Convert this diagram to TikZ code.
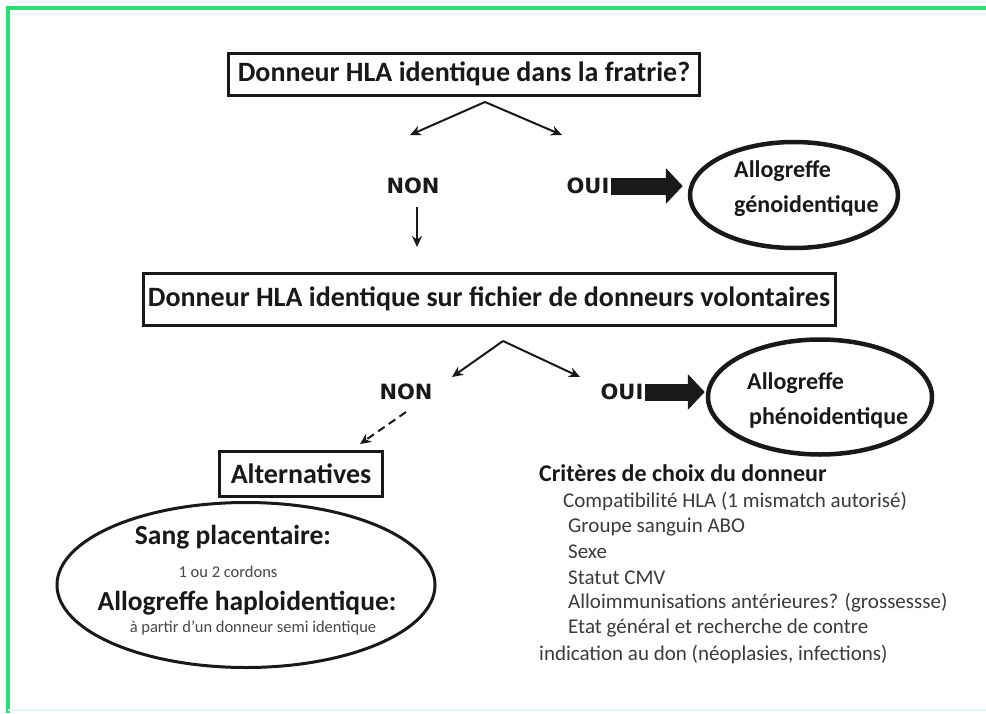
\documentclass[tikz,border=0pt]{standalone}
\usepackage{fontspec}
\setmainfont{Carlito}
\newfontfamily\yesnofont{DejaVu Sans}
\usetikzlibrary{arrows.meta,shapes.geometric}
\definecolor{framegreen}{RGB}{40,225,110}
\definecolor{ink}{RGB}{25,25,25}
\begin{document}
\begin{tikzpicture}[x=1pt,y=-1pt,
  qbox/.style={draw=ink, line width=3pt, inner sep=0pt, font=\fontsize{28}{32}\selectfont\bfseries, text=ink},
  yesno/.style={font=\yesnofont\fontsize{21}{24}\selectfont\bfseries, text=ink, inner sep=1pt},
  ell/.style={draw=ink, ellipse, line width=4.5pt, inner sep=0pt},
  elltext/.style={font=\fontsize{24}{28}\selectfont\bfseries, text=ink, inner sep=0pt, anchor=west},
  arr/.style={draw=ink, line width=2pt, -{Stealth[length=11pt,width=10pt]}},
  fat/.style={draw=ink, line width=17pt, -{Triangle[length=17pt,width=35pt]}},
  crit/.style={font=\fontsize{21}{25}\selectfont, text=ink!85, inner sep=0pt, anchor=west},
  small/.style={font=\fontsize{16.5}{19}\selectfont, text=ink!80, inner sep=0pt},
  big/.style={font=\fontsize{27.5}{31}\selectfont\bfseries, text=ink, inner sep=0pt},
]
\useasboundingbox (0,0) rectangle (986,713);
\fill[white] (0,0) rectangle (986,713);
\draw[framegreen, line width=4pt] (8,713) -- (8,8) -- (986,8);
\draw[cyan!12, line width=2pt] (8,710) -- (986,710);

% first question
\node[qbox, minimum width=471pt, minimum height=42pt] (q1) at (464,74) {Donneur HLA identique dans la fratrie?};
\coordinate (ap1) at (485,102);
\coordinate (l1) at (410,135);
\coordinate (r1) at (562,135);
\draw[arr] (ap1) -- (l1);
\draw[arr] (ap1) -- (r1);
\node[yesno] (non1) at (413,186) {NON};
\node[yesno] (oui1) at (588,186) {OUI};
\coordinate (d0) at (417,207);
\coordinate (d1) at (417,247);
\draw[arr] (d0) -- (d1);
\node[ell, minimum width=208pt, minimum height=106pt] (e1) at (794,195) {};
\node[elltext] (e1a) at (734,171) {Allogreffe};
\node[elltext] (e1b) at (734,206) {génoidentique};
\draw[fat, shorten >=5pt] (oui1.east) -- (oui1.east -| e1.west);

% second question
\node[qbox, minimum width=692pt, minimum height=52pt] (q2) at (489,299) {Donneur HLA identique sur fichier de donneurs volontaires};
\coordinate (ap2) at (503,341);
\coordinate (l2) at (452,377);
\coordinate (r2) at (580,377);
\draw[arr] (ap2) -- (l2);
\draw[arr] (ap2) -- (r2);
\node[yesno] (non2) at (406,392) {NON};
\node[yesno] (oui2) at (622,392) {OUI};
\node[ell, minimum width=224pt, minimum height=115pt] (e2) at (820,397) {};
\node[elltext] (e2a) at (747,383) {Allogreffe};
\node[elltext] (e2b) at (749,418) {phénoidentique};
\draw[fat, shorten >=1pt] (oui2.east) -- (oui2.east -| e2.west);

% alternatives
\node[qbox, line width=2.5pt, minimum width=163pt, minimum height=45pt] (alt) at (301,474) {Alternatives};
\coordinate (n2s) at (406,412);
\coordinate (altin) at (360,444);
\draw[arr, dash pattern=on 8pt off 5pt] (n2s) -- (altin);
\node[ell, line width=3pt, minimum width=378pt, minimum height=165pt] (e3) at (246,585) {};
\node[big] (sp) at (233,537) {Sang placentaire:};
\node[small] (sp2) at (228,572) {1 ou 2 cordons};
\node[big] (ah) at (247,603) {Allogreffe haploidentique:};
\node[small] (ah2) at (253,628) {à partir d'un donneur semi identique};

% criteria
\node[crit, font=\fontsize{24}{28}\selectfont\bfseries, text=ink] (c0) at (539,473) {Critères de choix du donneur};
\node[crit] (c1) at (563,502) {Compatibilité HLA (1 mismatch autorisé)};
\node[crit] (c2) at (568,527) {Groupe sanguin ABO};
\node[crit] (c3) at (568,552) {Sexe};
\node[crit] (c4) at (568,578) {Statut CMV};
\node[crit] (c5) at (568,603) {Alloimmunisations antérieures? (grossessse)};
\node[crit] (c6) at (568,628) {Etat général et recherche de contre};
\node[crit] (c7) at (539,655) {indication au don (néoplasies, infections)};
\end{tikzpicture}
\end{document}
